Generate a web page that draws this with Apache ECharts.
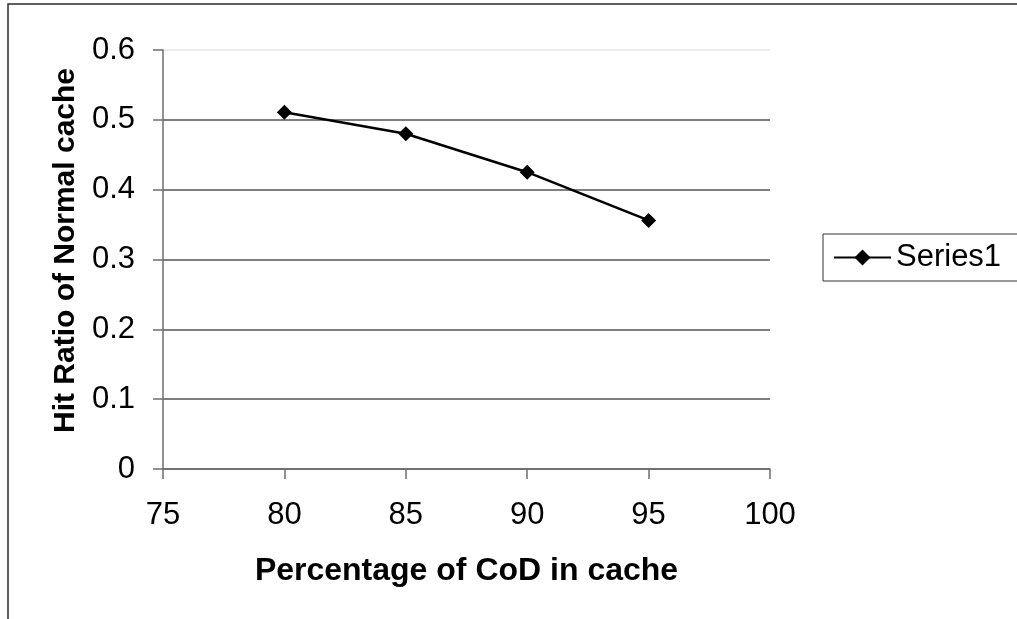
<!DOCTYPE html>
<html>
<head>
<meta charset="utf-8">
<script src="https://cdn.jsdelivr.net/npm/echarts@6/dist/echarts.min.js"></script>
<style>
  html, body { margin: 0; padding: 0; background: #fff; }
  #chart { width: 1017px; height: 619px; }
</style>
</head>
<body>
<div id="chart"></div>
<script>
// Hit ratio of the normal cache against the share of CoD objects held in cache
const seriesName = 'Series1';
const codPercent = [80, 85, 90, 95];
const hitRatio = [0.511, 0.480, 0.425, 0.356];
const xTicks = [75, 80, 85, 90, 95, 100];
const yTicks = [0, 0.1, 0.2, 0.3, 0.4, 0.5, 0.6];
const xTitle = 'Percentage of CoD in cache';
const yTitle = 'Hit Ratio of Normal cache';

const font = '"Liberation Sans", Arial, sans-serif';
const axisGray = '#6e6e6e';

const chart = echarts.init(document.getElementById('chart'), null, { renderer: 'canvas' });

chart.setOption({
  backgroundColor: '#ffffff',
  animation: false,
  graphic: [{
    // chart frame (only top and left edges fall inside the view)
    type: 'polyline',
    shape: { points: [[8, 640], [8, 4], [1040, 4]] },
    style: { stroke: '#2a2a2a', lineWidth: 1.5, fill: null },
    silent: true
  }],
  grid: { left: 163, top: 50, right: 247, bottom: 150 },
  legend: {
    data: [seriesName],
    left: 823,
    top: 234,
    orient: 'vertical',
    backgroundColor: '#ffffff',
    borderColor: '#333333',
    borderWidth: 1,
    borderRadius: 0,
    padding: [8, 40, 8, 10],
    itemWidth: 57,
    itemHeight: 20,
    itemGap: 8,
    textStyle: { fontFamily: font, fontSize: 31, color: '#000' }
  },
  xAxis: {
    type: 'value',
    min: xTicks[0],
    max: xTicks[xTicks.length - 1],
    interval: xTicks[1] - xTicks[0],
    name: xTitle,
    nameLocation: 'middle',
    nameGap: 86,
    nameTextStyle: { fontFamily: font, fontSize: 32, fontWeight: 'bold', color: '#000' },
    axisLine: { show: true, onZero: false, lineStyle: { color: axisGray, width: 1.5 } },
    axisTick: { show: true, inside: false, length: 10, lineStyle: { color: axisGray, width: 1.5 } },
    axisLabel: { fontFamily: font, fontSize: 31, color: '#000', margin: 31 },
    splitLine: { show: false }
  },
  yAxis: {
    type: 'value',
    min: yTicks[0],
    max: yTicks[yTicks.length - 1],
    interval: 0.1,
    name: yTitle,
    nameLocation: 'middle',
    nameGap: 82,
    nameTextStyle: { fontFamily: font, fontSize: 30, fontWeight: 'bold', color: '#000', padding: [0, 0, 0, 18] },
    axisLine: { show: true, onZero: false, lineStyle: { color: axisGray, width: 1.5 } },
    axisTick: { show: true, inside: false, length: 10, lineStyle: { color: axisGray, width: 1.5 } },
    axisLabel: { fontFamily: font, fontSize: 31, color: '#000', margin: 28 },
    splitLine: {
      show: true,
      lineStyle: {
        color: ['#555555', '#555555', '#555555', '#555555', '#555555', '#555555', '#e6e6e6'],
        width: 1.5
      }
    }
  },
  series: [{
    name: seriesName,
    type: 'line',
    data: codPercent.map((x, i) => [x, hitRatio[i]]),
    symbol: 'diamond',
    symbolSize: 15,
    lineStyle: { color: '#000', width: 2.5 },
    itemStyle: { color: '#000' },
    emphasis: { disabled: true }
  }]
});
</script>
</body>
</html>
